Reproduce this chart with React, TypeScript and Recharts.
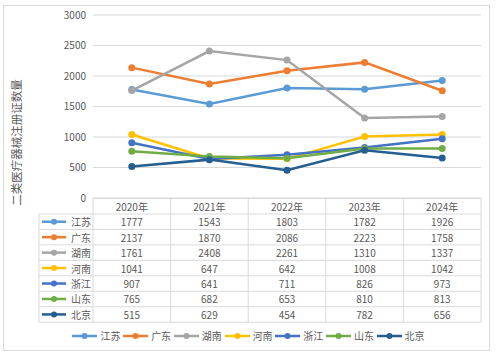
import React from 'react';
import { LineChart, Line, XAxis, YAxis, CartesianGrid, Legend } from 'recharts';

const years = ['2020年', '2021年', '2022年', '2023年', '2024年'];
const provinces = ['江苏', '广东', '湖南', '河南', '浙江', '山东', '北京'];
const colors = ['#5B9BD5', '#ED7D31', '#A5A5A5', '#FFC000', '#4472C4', '#70AD47', '#255E91'];
const jiangsu = [1777, 1543, 1803, 1782, 1926];
const guangdong = [2137, 1870, 2086, 2223, 1758];
const hunan = [1761, 2408, 2261, 1310, 1337];
const henan = [1041, 647, 642, 1008, 1042];
const zhejiang = [907, 641, 711, 826, 973];
const shandong = [765, 682, 653, 810, 813];
const beijing = [515, 629, 454, 782, 656];
const seriesValues = [jiangsu, guangdong, hunan, henan, zhejiang, shandong, beijing];
const yTicks = [0, 500, 1000, 1500, 2000, 2500, 3000];
const yLabel = '二类医疗器械注册证数量';

const data = years.map((y, i) => {
  const row: any = { year: y };
  provinces.forEach((p, j) => {
    row[p] = seriesValues[j][i];
  });
  return row;
});

const FONT = '"Noto Sans CJK SC", "Noto Sans", sans-serif';
const TEXT = '#595959';
const LINE = '#d9d9d9';
const HEADER_H = 16;
const ROW_H = 15.45;
const LABEL_COL_W = 54;

const TableTick = (props: any) => {
  const { x, y, payload } = props;
  const half = payload && payload.offset ? payload.offset : 38.7;
  const idx = years.indexOf(payload.value);
  const left = x - half;
  const right = x + half;
  const top = y;
  const bottom = top + HEADER_H + ROW_H * provinces.length;
  const els: any[] = [];
  els.push(<line key="ht" x1={left} x2={right} y1={top + 0.5} y2={top + 0.5} stroke={LINE} />);
  els.push(<line key="vl" x1={left} x2={left} y1={top} y2={bottom} stroke={LINE} />);
  if (idx === years.length - 1) {
    els.push(<line key="vr" x1={right} x2={right} y1={top} y2={bottom} stroke={LINE} />);
  }
  els.push(
    <text key="h" x={x} y={top + HEADER_H / 2 + 0.5} textAnchor="middle" dominantBaseline="central" fontSize={10} fill={TEXT} fontFamily={FONT}>
      {payload.value}
    </text>
  );
  for (let r = 0; r <= provinces.length; r++) {
    const ly = top + HEADER_H + r * ROW_H;
    els.push(<line key={'hl' + r} x1={left} x2={right} y1={ly} y2={ly} stroke={LINE} />);
  }
  provinces.forEach((p, r) => {
    const cy = top + HEADER_H + r * ROW_H + ROW_H / 2;
    els.push(
      <text key={'v' + r} x={x} y={cy} textAnchor="middle" dominantBaseline="central" fontSize={10} fill={TEXT} fontFamily={FONT}>
        {seriesValues[r][idx]}
      </text>
    );
  });
  if (idx === 0) {
    const cl = left - LABEL_COL_W;
    els.push(<line key="lcl" x1={cl} x2={cl} y1={top + HEADER_H} y2={bottom} stroke={LINE} />);
    for (let r = 0; r <= provinces.length; r++) {
      const ly = top + HEADER_H + r * ROW_H;
      els.push(<line key={'lhl' + r} x1={cl} x2={left} y1={ly} y2={ly} stroke={LINE} />);
    }
    provinces.forEach((p, r) => {
      const cy = top + HEADER_H + r * ROW_H + ROW_H / 2;
      els.push(<line key={'li' + r} x1={cl + 3} x2={cl + 27} y1={cy} y2={cy} stroke={colors[r]} strokeWidth={2.5} />);
      els.push(<circle key={'lc' + r} cx={cl + 15} cy={cy} r={3} fill={colors[r]} />);
      els.push(
        <text key={'lt' + r} x={cl + 32} y={cy} textAnchor="start" dominantBaseline="central" fontSize={10} fill={TEXT} fontFamily={FONT}>
          {p}
        </text>
      );
    });
  }
  return <g>{els}</g>;
};

const LegendContent = () => (
  <div
    style={{
      display: 'flex',
      justifyContent: 'center',
      alignItems: 'center',
      height: 16,
      fontSize: 10,
      color: TEXT,
      fontFamily: FONT,
      lineHeight: '16px',
    }}
  >
    {provinces.map((p, i) => (
      <div key={p} style={{ display: 'flex', alignItems: 'center', marginRight: i < provinces.length - 1 ? 2.7 : 0 }}>
        <svg width={25} height={8} style={{ display: 'block' }}>
          <line x1={0} y1={4} x2={25} y2={4} stroke={colors[i]} strokeWidth={2.5} />
          <circle cx={12.5} cy={4} r={3} fill={colors[i]} />
        </svg>
        <span style={{ marginLeft: 3 }}>{p}</span>
      </div>
    ))}
  </div>
);

const YLabel = (props: any) => {
  const vb = props.viewBox || { x: 0, y: 15, width: 93, height: 183 };
  const cx = vb.x + 16;
  const cy = vb.y + vb.height / 2 + 36;
  return (
    <text x={cx} y={cy} transform={`rotate(-90 ${cx} ${cy})`} textAnchor="middle" dominantBaseline="central" fontSize={11.5} fill={TEXT} fontFamily={FONT}>
      {yLabel}
    </text>
  );
};

export default function App() {
  return (
    <div style={{ position: 'absolute', left: 0, top: 0, width: 500, height: 356, background: '#fff' }}>
      <div
        style={{
          position: 'absolute',
          left: 3,
          top: 5,
          width: 487,
          height: 346,
          border: '1px solid #d9d9d9',
          boxSizing: 'border-box',
        }}
      />
      <div style={{ position: 'absolute', left: 0, top: 0 }}>
        <LineChart width={500} height={356} data={data} margin={{ top: 15, right: 19, bottom: 12, left: 0 }}>
          <CartesianGrid vertical={false} stroke={LINE} />
          <XAxis
            dataKey="year"
            scale="band"
            height={130}
            axisLine={false}
            tickLine={false}
            tickSize={0}
            tickMargin={0}
            interval={0}
            tick={<TableTick />}
          />
          <YAxis
            width={93}
            domain={[0, 3000]}
            ticks={yTicks}
            axisLine={false}
            tickLine={false}
            tickSize={0}
            tickMargin={7}
            tick={{ fontSize: 10, fill: TEXT, fontFamily: FONT }}
            label={<YLabel />}
          />
          <Legend
            verticalAlign="bottom"
            content={<LegendContent />}
            wrapperStyle={{ left: 0, width: 497 }}
          />
          {provinces.map((p, i) => (
            <Line
              key={p}
              type="linear"
              dataKey={p}
              stroke={colors[i]}
              strokeWidth={2.5}
              dot={{ r: 3.5, fill: colors[i], stroke: colors[i], strokeWidth: 0 }}
              activeDot={false}
              isAnimationActive={false}
            />
          ))}
        </LineChart>
      </div>
    </div>
  );
}
